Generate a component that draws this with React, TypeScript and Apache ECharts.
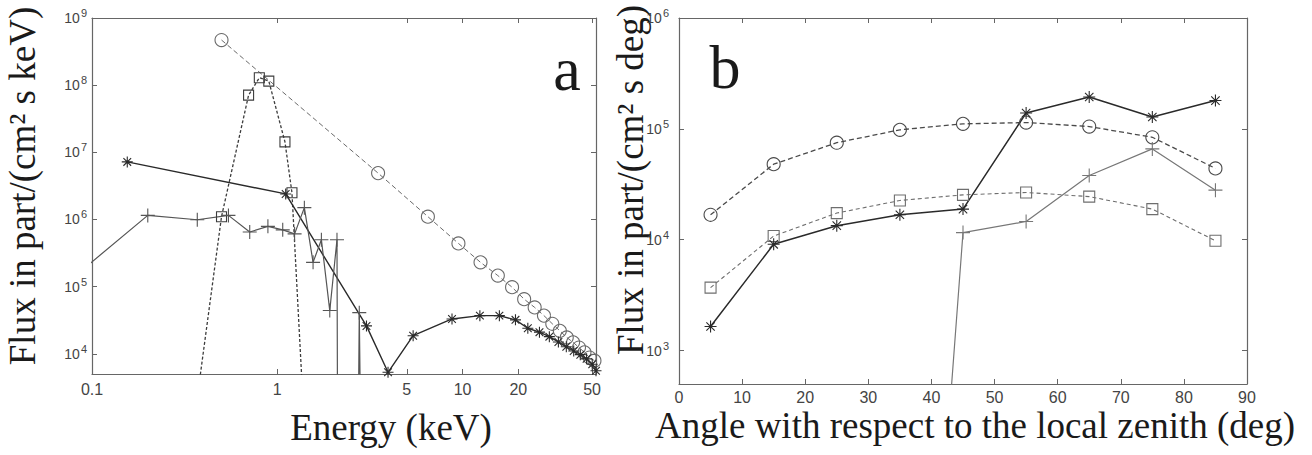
import React, { useEffect, useRef } from 'react';
import * as echarts from 'echarts';

// ---------- Panel a: energy spectra ----------
const energyCircle = [0.5, 3.5, 6.5, 9.5, 12.5, 15.5, 18.5, 21.5, 24.5, 27.5, 30.5, 33.5, 36.5, 39.5, 42.5, 45.5, 48.5, 51.5];
const fluxCircle = [4.7e8, 4.9e6, 1.1e6, 4.4e5, 2.3e5, 1.46e5, 9.8e4, 6.5e4, 4.9e4, 3.7e4, 2.8e4, 2.2e4, 1.75e4, 1.48e4, 1.24e4, 1.05e4, 8.8e3, 7.9e3];

const energySquare = [0.3, 0.5, 0.7, 0.8, 0.9, 1.1, 1.2, 1.4];
const fluxSquare = [30, 1.1e6, 7.1e7, 1.29e8, 1.15e8, 1.43e7, 2.5e6, 800];

const energyStar = [0.155, 1.11, 3.03, 3.96, 5.41, 8.77, 12.4, 15.8, 19.3, 22.5, 26.0, 29.4, 32.9, 36.3, 39.8, 43.2, 46.7, 50.1, 52.5];
const fluxStar = [7.2e6, 2.4e6, 2.6e4, 5.3e3, 1.86e4, 3.3e4, 3.7e4, 3.7e4, 3.2e4, 2.4e4, 2.1e4, 1.8e4, 1.5e4, 1.27e4, 1.1e4, 9.7e3, 8.4e3, 7.0e3, 5.6e3];

const energyPlus = [0.08, 0.2, 0.37, 0.545, 0.71, 0.89, 1.07, 1.24, 1.4, 1.56, 1.73, 1.92, 2.1, 2.13, 2.68, 2.77, 2.9];
const fluxPlus = [1.4e5, 1.15e6, 9.9e5, 1.15e6, 6.5e5, 7.9e5, 7.0e5, 6.1e5, 1.5e6, 2.3e5, 5.0e5, 4.4e4, 5.0e5, 1, 1, 4.1e4, 1];

const energyTicks = [0.1, 1, 5, 10, 20, 50];
const energyMin = 0.1;
const energyMax = 52.5;
const fluxMinA = 5000;
const fluxMaxA = 1e9;

// ---------- Panel b: angular distribution ----------
const angle = [5, 15, 25, 35, 45, 55, 65, 75, 85];
const fluxCircleB = [1.68e4, 4.8e4, 7.5e4, 9.8e4, 1.11e5, 1.14e5, 1.05e5, 8.4e4, 4.4e4];
const fluxSquareB = [3.7e3, 1.08e4, 1.74e4, 2.26e4, 2.54e4, 2.67e4, 2.45e4, 1.89e4, 9.8e3];
const fluxStarB = [1.65e3, 9.1e3, 1.34e4, 1.68e4, 1.89e4, 1.39e5, 1.94e5, 1.28e5, 1.8e5];
const anglePlusB = [35, 45, 55, 65, 75, 85];
const fluxPlusB = [3e-4, 1.16e4, 1.46e4, 3.8e4, 6.6e4, 2.8e4];
const fluxMinB = 500;
const fluxMaxB = 1e6;

const PLUS = 'path://M0,5L10,5M5,0L5,10';
const STAR = 'path://M5,0L5,10M0,5L10,5M1.5,1.5L8.5,8.5M1.5,8.5L8.5,1.5';

const SANS = "'Liberation Sans', Arial, Helvetica, sans-serif";
const SERIF = "'Liberation Serif', 'Times New Roman', serif";
const AXIS_COLOR = '#666';
const LABEL_COLOR = '#444';

const pairsLog = (xs: number[], ys: number[]) => xs.map((x, i) => [Math.log10(x), ys[i]]);
const pairs = (xs: number[], ys: number[]) => xs.map((x, i) => [x, ys[i]]);

function lineSeries(
  data: number[][], xi: number, yi: number, symbol: string, size: number,
  color: string, width: number, dash: any
) {
  return {
    type: 'line',
    xAxisIndex: xi,
    yAxisIndex: yi,
    data,
    symbol,
    symbolSize: size,
    showSymbol: true,
    showAllSymbol: true,
    clip: true,
    lineStyle: { color, width, type: dash },
    itemStyle: { color: 'transparent', borderColor: color, borderWidth: 1.1 },
    emphasis: { disabled: true },
    z: 3,
  };
}

const powRich = {
  b: { fontSize: 14, fontFamily: SANS, color: LABEL_COLOR },
  s: { fontSize: 11, fontFamily: SANS, color: LABEL_COLOR, padding: [0, 0, 10, 1] },
};
const powFormatter = (v: number) => `{b|10}{s|${Math.round(Math.log10(v))}}`;

function yLog(grid: number, pos: 'left' | 'right', min: number, max: number, margin: number) {
  return {
    type: 'log',
    logBase: 10,
    gridIndex: grid,
    position: pos,
    min,
    max,
    axisLine: { show: true, onZero: false, lineStyle: { color: AXIS_COLOR, width: 1.2 } },
    axisTick: { show: true, inside: true, length: 5, lineStyle: { color: AXIS_COLOR } },
    axisLabel: {
      show: pos === 'left',
      margin,
      showMinLabel: false,
      formatter: powFormatter,
      rich: powRich,
    },
    minorTick: { show: false },
    splitLine: { show: false },
  };
}

function xEnergy(pos: 'bottom' | 'top') {
  const ticks = energyTicks.map((t) => Math.log10(t));
  return {
    type: 'value',
    gridIndex: 0,
    position: pos,
    min: Math.log10(energyMin),
    max: Math.log10(energyMax),
    axisLine: { show: true, onZero: false, lineStyle: { color: AXIS_COLOR, width: 1.2 } },
    axisTick: { show: true, inside: true, length: 5, customValues: ticks, lineStyle: { color: AXIS_COLOR } },
    axisLabel: {
      show: pos === 'bottom',
      customValues: ticks,
      margin: 7,
      fontSize: 16,
      fontFamily: SANS,
      color: LABEL_COLOR,
      formatter: (v: number) => String(parseFloat(Math.pow(10, v).toPrecision(3))),
    },
    splitLine: { show: false },
  };
}

function xAngle(pos: 'bottom' | 'top') {
  return {
    type: 'value',
    gridIndex: 1,
    position: pos,
    min: 0,
    max: 90,
    interval: 10,
    axisLine: { show: true, onZero: false, lineStyle: { color: AXIS_COLOR, width: 1.2 } },
    axisTick: { show: true, inside: true, length: 5, lineStyle: { color: AXIS_COLOR } },
    axisLabel: {
      show: pos === 'bottom',
      margin: 5,
      fontSize: 16,
      fontFamily: SANS,
      color: LABEL_COLOR,
    },
    splitLine: { show: false },
  };
}

const titleStyle = (text: string, size = 37) => ({
  text,
  fill: '#1a1a1a',
  font: `${size}px ${SERIF}`,
  textAlign: 'center',
  textVerticalAlign: 'middle',
});

const option: any = {
  animation: false,
  backgroundColor: '#fff',
  grid: [
    { left: 92, top: 18, width: 504, height: 356, outerBoundsMode: 'none' },
    { left: 679, top: 18, width: 568, height: 366, outerBoundsMode: 'none' },
  ],
  xAxis: [xEnergy('bottom'), xEnergy('top'), xAngle('bottom'), xAngle('top')],
  yAxis: [
    yLog(0, 'left', fluxMinA, fluxMaxA, 5),
    yLog(0, 'right', fluxMinA, fluxMaxA, 5),
    yLog(1, 'left', fluxMinB, fluxMaxB, 10),
    yLog(1, 'right', fluxMinB, fluxMaxB, 10),
  ],
  series: [
    lineSeries(pairsLog(energyCircle, fluxCircle), 0, 0, 'circle', 13, '#6a6a6a', 1, [5, 3]),
    lineSeries(pairsLog(energySquare, fluxSquare), 0, 0, 'rect', 10, '#3c3c3c', 1.3, [3, 2]),
    lineSeries(pairsLog(energyStar, fluxStar), 0, 0, STAR, 11, '#2a2a2a', 1.4, 'solid'),
    lineSeries(pairsLog(energyPlus, fluxPlus), 0, 0, PLUS, 14, '#555', 1.2, 'solid'),

    lineSeries(pairs(angle, fluxCircleB), 2, 2, 'circle', 13, '#4a4a4a', 1.3, [5, 3]),
    lineSeries(pairs(angle, fluxSquareB), 2, 2, 'rect', 11, '#6e6e6e', 1.1, [4, 3]),
    lineSeries(pairs(angle, fluxStarB), 2, 2, STAR, 12, '#2a2a2a', 1.5, 'solid'),
    lineSeries(pairs(anglePlusB, fluxPlusB), 2, 2, PLUS, 14, '#777', 1.2, 'solid'),
  ],
  graphic: [
    { type: 'text', x: 22.5, y: 186, rotation: Math.PI / 2, style: titleStyle('Flux in part/(cm² s keV)') },
    { type: 'text', x: 391, y: 427.5, style: titleStyle('Energy (keV)') },
    { type: 'text', x: 630.5, y: 180, rotation: Math.PI / 2, style: titleStyle('Flux in part/(cm² s deg)') },
    { type: 'text', x: 975, y: 425.5, style: titleStyle('Angle with respect to the local zenith (deg)') },
    { type: 'text', x: 567, y: 69, style: titleStyle('a', 62) },
    { type: 'text', x: 725, y: 67.4, style: titleStyle('b', 62) },
  ],
};

export default function App() {
  const ref = useRef<HTMLDivElement>(null);
  useEffect(() => {
    if (!ref.current) return;
    const chart = echarts.init(ref.current, null, { renderer: 'svg' });
    chart.setOption(option);
    return () => chart.dispose();
  }, []);
  return (
    <div
      ref={ref}
      style={{ position: 'absolute', left: 0, top: 0, width: 1312, height: 455, background: '#fff' }}
    />
  );
}
